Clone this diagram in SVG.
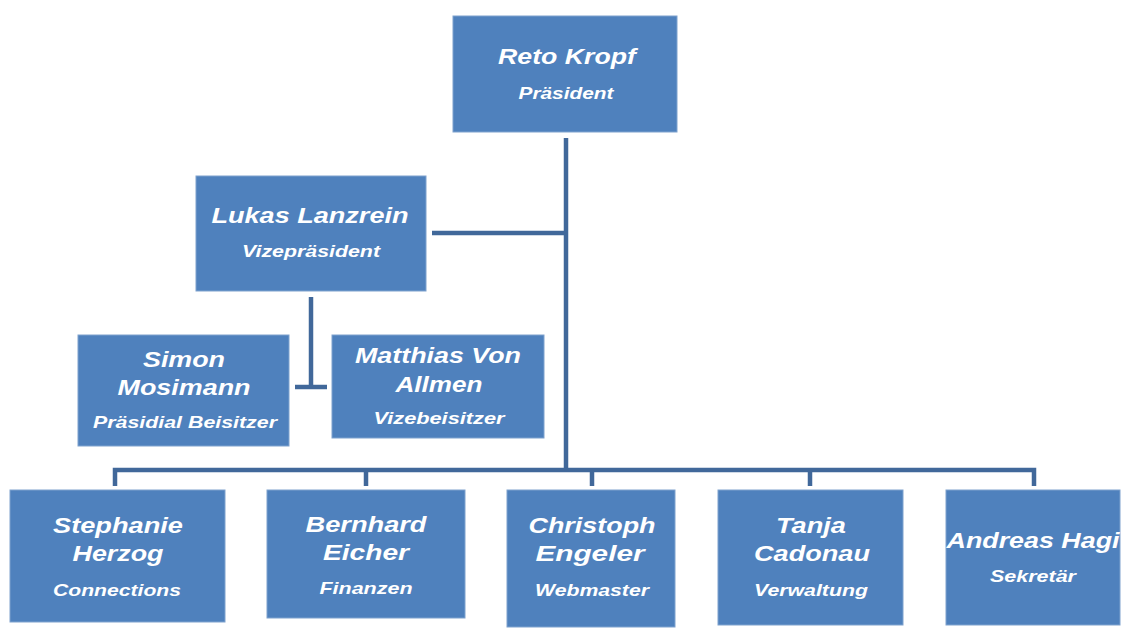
<svg xmlns="http://www.w3.org/2000/svg" width="1127" height="630" viewBox="0 0 1127 630">
<style>
.box{fill:#4F81BD;stroke:#7FA2CE;stroke-width:1}
.n{font-family:"Liberation Sans",Arial,sans-serif;font-weight:bold;font-style:italic;font-size:22px;fill:#FFFFFF;text-anchor:middle}
.r{font-family:"Liberation Sans",Arial,sans-serif;font-weight:bold;font-style:italic;font-size:17px;fill:#FFFFFF;text-anchor:middle}
.c{fill:none;stroke:#41689A;stroke-width:4.5;stroke-linejoin:miter}
</style>
<rect width="1127" height="630" fill="#FFFFFF"/>
<g id="connectors">
<path class="c" d="M566 138 V470"/>
<path class="c" d="M432 233 H566"/>
<path class="c" d="M115 486 V470 H1034 V486"/>
<path class="c" d="M366 470 V486 M592 470 V486 M810 470 V486"/>
<path class="c" d="M311 297 V388"/>
<path class="c" d="M295 387 H327"/>
</g>
<g id="reto">
<rect class="box" x="453" y="16" width="224" height="116"/>
<text class="n" x="567" y="64" textLength="138" lengthAdjust="spacingAndGlyphs">Reto Kropf</text>
<text class="r" x="566" y="99" textLength="95" lengthAdjust="spacingAndGlyphs">Präsident</text>
</g>
<g id="lukas">
<rect class="box" x="196" y="176" width="230" height="115"/>
<text class="n" x="310" y="223" textLength="197" lengthAdjust="spacingAndGlyphs">Lukas Lanzrein</text>
<text class="r" x="311" y="257" textLength="138" lengthAdjust="spacingAndGlyphs">Vizepräsident</text>
</g>
<g id="simon">
<rect class="box" x="78" y="335" width="211" height="111"/>
<text class="n" x="184" y="367" textLength="82" lengthAdjust="spacingAndGlyphs">Simon</text>
<text class="n" x="184" y="395" textLength="133" lengthAdjust="spacingAndGlyphs">Mosimann</text>
<text class="r" x="185" y="428" textLength="184" lengthAdjust="spacingAndGlyphs">Präsidial Beisitzer</text>
</g>
<g id="matthias">
<rect class="box" x="332" y="335" width="212" height="103"/>
<text class="n" x="438" y="363" textLength="166" lengthAdjust="spacingAndGlyphs">Matthias Von</text>
<text class="n" x="439" y="392" textLength="87" lengthAdjust="spacingAndGlyphs">Allmen</text>
<text class="r" x="439" y="424" textLength="131" lengthAdjust="spacingAndGlyphs">Vizebeisitzer</text>
</g>
<g id="stephanie">
<rect class="box" x="10" y="490" width="215" height="132"/>
<text class="n" x="118" y="533" textLength="130" lengthAdjust="spacingAndGlyphs">Stephanie</text>
<text class="n" x="118" y="561" textLength="91" lengthAdjust="spacingAndGlyphs">Herzog</text>
<text class="r" x="117" y="596" textLength="128" lengthAdjust="spacingAndGlyphs">Connections</text>
</g>
<g id="bernhard">
<rect class="box" x="267" y="490" width="198" height="128"/>
<text class="n" x="366" y="532" textLength="121" lengthAdjust="spacingAndGlyphs">Bernhard</text>
<text class="n" x="366" y="560" textLength="86" lengthAdjust="spacingAndGlyphs">Eicher</text>
<text class="r" x="366" y="594" textLength="93" lengthAdjust="spacingAndGlyphs">Finanzen</text>
</g>
<g id="christoph">
<rect class="box" x="507" y="490" width="168" height="137"/>
<text class="n" x="592" y="533" textLength="127" lengthAdjust="spacingAndGlyphs">Christoph</text>
<text class="n" x="590" y="561" textLength="109" lengthAdjust="spacingAndGlyphs">Engeler</text>
<text class="r" x="592" y="596" textLength="114" lengthAdjust="spacingAndGlyphs">Webmaster</text>
</g>
<g id="tanja">
<rect class="box" x="718" y="490" width="185" height="135"/>
<text class="n" x="811" y="533" textLength="70" lengthAdjust="spacingAndGlyphs">Tanja</text>
<text class="n" x="812" y="561" textLength="116" lengthAdjust="spacingAndGlyphs">Cadonau</text>
<text class="r" x="811" y="596" textLength="114" lengthAdjust="spacingAndGlyphs">Verwaltung</text>
</g>
<g id="andreas">
<rect class="box" x="946" y="490" width="174" height="135"/>
<text class="n" x="1033" y="548" textLength="173" lengthAdjust="spacingAndGlyphs">Andreas Hagi</text>
<text class="r" x="1033" y="582" textLength="86" lengthAdjust="spacingAndGlyphs">Sekretär</text>
</g>
</svg>
